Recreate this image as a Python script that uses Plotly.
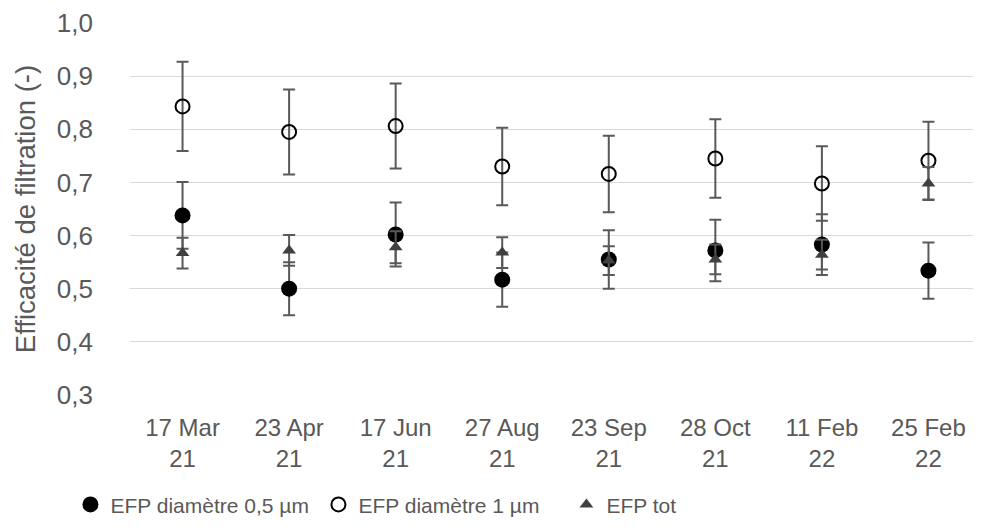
import plotly.graph_objects as go

categories = ["17 Mar<br>21", "23 Apr<br>21", "17 Jun<br>21", "27 Aug<br>21",
              "23 Sep<br>21", "28 Oct<br>21", "11 Feb<br>22", "25 Feb<br>22"]

efp_05 = [0.638, 0.500, 0.602, 0.517, 0.555, 0.572, 0.583, 0.534]
efp_05_err = [0.063, 0.050, 0.060, 0.051, 0.055, 0.058, 0.057, 0.053]

efp_1 = [0.843, 0.795, 0.806, 0.730, 0.716, 0.745, 0.698, 0.741]
efp_1_err = [0.084, 0.080, 0.080, 0.073, 0.072, 0.074, 0.070, 0.073]

efp_tot = [0.567, 0.572, 0.578, 0.568, 0.553, 0.555, 0.564, 0.698]
efp_tot_err = [0.029, 0.029, 0.030, 0.029, 0.027, 0.028, 0.028, 0.031]

names = ["EFP diamètre 0,5 µm", "EFP diamètre 1 µm", "EFP tot"]

err_style = dict(type="data", visible=True, color="#595959", thickness=2, width=6)

fig = go.Figure()
fig.add_trace(go.Scatter(
    x=categories, y=efp_05, mode="markers", name=names[0],
    marker=dict(symbol="circle", size=16, color="black", line=dict(width=0)),
    error_y=dict(array=efp_05_err, **err_style)))
fig.add_trace(go.Scatter(
    x=categories, y=efp_1, mode="markers", name=names[1],
    marker=dict(symbol="circle-open", size=14, color="black", line=dict(width=2, color="black")),
    error_y=dict(array=efp_1_err, **err_style)))
fig.add_trace(go.Scatter(
    x=categories, y=efp_tot, mode="markers", name=names[2],
    marker=dict(symbol="triangle-up", size=12, color="#404040", line=dict(width=0)),
    error_y=dict(array=efp_tot_err, **err_style)))

fig.update_layout(
    width=973, height=523,
    margin=dict(l=122, r=0, t=13, b=136),
    paper_bgcolor="white", plot_bgcolor="white",
    separators=", ",
    font=dict(family="Liberation Sans, Arial, sans-serif", size=25, color="#595959"),
    showlegend=True,
    legend=dict(orientation="h", x=-0.07, xanchor="left", y=-0.24, yanchor="top",
                font=dict(size=21, color="#595959"), itemsizing="trace",
                entrywidth=203, entrywidthmode="pixels"),
    xaxis=dict(type="category", showgrid=False, showline=False, ticks="",
               ticklabelstandoff=16,
               tickfont=dict(size=24, color="#595959")),
    yaxis=dict(range=[0.3, 1.0], dtick=0.1, tickformat=".1f", showgrid=True,
               gridcolor="#D9D9D9", gridwidth=1.3, zeroline=False, showline=False,
               ticks="", ticklabelstandoff=36, ticklabeloverflow="allow",
               title=dict(text="Efficacité de filtration (-)", font=dict(size=27.5, color="#595959"),
                          standoff=13),
               tickfont=dict(size=26, color="#595959")),
)

fig.write_html("out.html")
